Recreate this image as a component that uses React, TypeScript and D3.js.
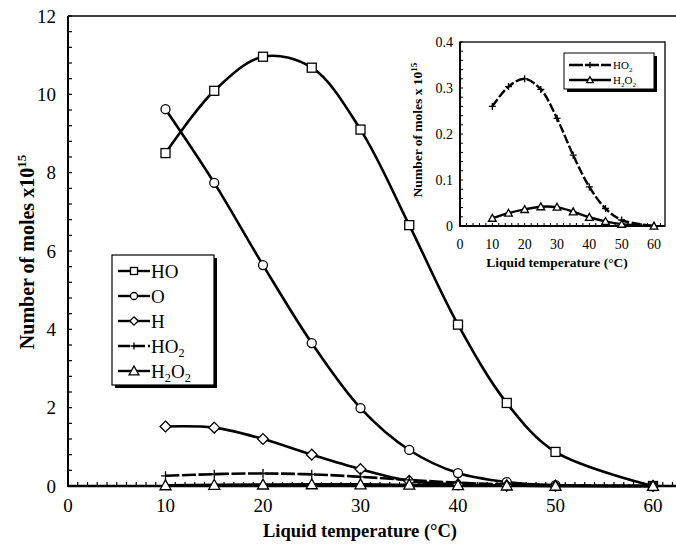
import React from "react";
import * as d3 from "d3";

const temps = [10, 15, 20, 25, 30, 35, 40, 45, 50, 60];
const hoValues = [8.5, 10.09, 10.96, 10.68, 9.1, 6.66, 4.12, 2.12, 0.87, 0.0];
const oValues = [9.62, 7.74, 5.64, 3.65, 1.99, 0.92, 0.33, 0.1, 0.02, 0.0];
const hValues = [1.52, 1.49, 1.2, 0.8, 0.43, 0.13, 0.04, 0.01, 0.0, 0.0];
const ho2Values = [0.26, 0.303, 0.32, 0.297, 0.234, 0.154, 0.085, 0.038, 0.013, 0.0];
const h2o2Values = [0.017, 0.028, 0.036, 0.042, 0.041, 0.031, 0.019, 0.01, 0.004, 0.0];

const mainXTicks = [0, 10, 20, 30, 40, 50, 60];
const mainYTicks = [0, 2, 4, 6, 8, 10, 12];
const insetXTicks = [0, 10, 20, 30, 40, 50, 60];
const insetYTicks = [0, 0.1, 0.2, 0.3, 0.4];

const seriesNames = ["HO", "O", "H", "HO2", "H2O2"];
const seriesMarkers = ["square", "circle", "diamond", "plus", "triangle"];

const FONT = "'Liberation Serif', 'Times New Roman', serif";

function Marker({ type, x, y, s }: { type: string; x: number; y: number; s: number }) {
  const sw = 1.3;
  if (type === "square")
    return <rect x={x - s / 2} y={y - s / 2} width={s} height={s} fill="#fff" stroke="#000" strokeWidth={sw} />;
  if (type === "circle") return <circle cx={x} cy={y} r={s / 2} fill="#fff" stroke="#000" strokeWidth={sw} />;
  if (type === "diamond") {
    const h = s * 0.6;
    return (
      <path d={`M${x},${y - h}L${x + h},${y}L${x},${y + h}L${x - h},${y}Z`} fill="#fff" stroke="#000" strokeWidth={sw} />
    );
  }
  if (type === "triangle") {
    const h = s * 0.55;
    return (
      <path d={`M${x},${y - h}L${x + h},${y + h * 0.8}L${x - h},${y + h * 0.8}Z`} fill="#fff" stroke="#000" strokeWidth={sw} />
    );
  }
  const h = s / 2;
  return <path d={`M${x - h},${y}H${x + h}M${x},${y - h}V${y + h}`} stroke="#000" strokeWidth={1.3} fill="none" />;
}

function Chem({ name, size }: { name: string; size: number }) {
  const sub = size * 0.65;
  const off = size * 0.25;
  if (name === "HO2")
    return (
      <>
        HO<tspan dy={off} fontSize={sub}>2</tspan>
      </>
    );
  if (name === "H2O2")
    return (
      <>
        H<tspan dy={off} fontSize={sub}>2</tspan>
        <tspan dy={-off}>O</tspan>
        <tspan dy={off} fontSize={sub}>2</tspan>
      </>
    );
  return <>{name}</>;
}

export default function App() {
  const x = d3.scaleLinear().domain([0, 60]).range([68, 653]);
  const y = d3.scaleLinear().domain([0, 12]).range([486, 16]);
  const xi = d3.scaleLinear().domain([0, 60]).range([460, 654]);
  const yi = d3.scaleLinear().domain([0, 0.4]).range([226, 42]);

  const mainSeries = [hoValues, oValues, hValues, ho2Values, h2o2Values];
  const lineMain = d3
    .line<number>()
    .x((_, i) => x(temps[i]))
    .y((v) => y(v))
    .curve(d3.curveCatmullRom.alpha(0.5));
  const lineInset = d3
    .line<number>()
    .x((_, i) => xi(temps[i]))
    .y((v) => yi(v))
    .curve(d3.curveCatmullRom.alpha(0.5));

  const xEnd = 700;
  const minorX = d3.range(1, 64, 1);
  const minorY = d3.range(0, 12.01, 0.4);
  const insetMinorX = d3.range(2, 64, 2);
  const insetMinorY = d3.range(0, 0.401, 0.02);
  const insetRight = 665;

  const legRows = [271, 296, 321, 346, 371];
  const insetLegRows = [67, 82];

  return (
    <div style={{ position: "fixed", left: 0, top: 0 }}>
      <svg width={676} height={553} style={{ display: "block", background: "#fff" }} fontFamily={FONT}>
        <rect width={676} height={553} fill="#fff" />
        {/* main frame */}
        <line x1={68} x2={xEnd} y1={16} y2={16} stroke="#000" strokeWidth={1.3} />
        <line x1={68} x2={68} y1={16} y2={487} stroke="#000" strokeWidth={2} />
        {minorY.map((v, i) => (
          <line key={"my" + i} x1={68} x2={72} y1={y(v)} y2={y(v)} stroke="#000" strokeWidth={1.2} />
        ))}
        {minorX.map((v, i) => (
          <line key={"mx" + i} x1={x(v)} x2={x(v)} y1={486} y2={482} stroke="#000" strokeWidth={1.2} />
        ))}
        {mainYTicks.map((v) => (
          <text key={"yt" + v} x={56} y={y(v)} dy="0.35em" textAnchor="end" fontSize={19}>
            {v}
          </text>
        ))}
        {mainXTicks.map((v) => (
          <text key={"xt" + v} x={x(v)} y={512} textAnchor="middle" fontSize={19}>
            {v}
          </text>
        ))}
        <text x={360} y={537} textAnchor="middle" fontSize={18.5} fontWeight="bold">
          Liquid temperature (°C)
        </text>
        <text transform="translate(34,252) rotate(-90)" textAnchor="middle" fontSize={20} fontWeight="bold">
          Number of moles x10<tspan dy={-8} fontSize={13}>15</tspan>
        </text>

        {/* main series */}
        {mainSeries.map((vals, si) => (
          <path
            key={"ml" + si}
            d={lineMain(vals) || ""}
            fill="none"
            stroke="#000"
            strokeWidth={2.6}
            strokeDasharray={si === 3 ? "14,2.5" : undefined}
          />
        ))}
        <line x1={68} x2={xEnd} y1={486} y2={486} stroke="#000" strokeWidth={2.4} />
        {mainSeries.map((vals, si) =>
          vals.map((v, i) => (
            <Marker
              key={"mm" + si + "-" + i}
              type={seriesMarkers[si]}
              x={x(temps[i])}
              y={y(v)}
              s={si === 4 ? 10 : 9}
            />
          ))
        )}

        {/* main legend */}
        <rect x={115} y={258} width={102} height={130} fill="#000" />
        <rect x={112} y={255} width={102} height={130} fill="#fff" stroke="#000" strokeWidth={1.2} />
        {seriesNames.map((n, i) => (
          <g key={"lg" + i}>
            <line
              x1={118}
              x2={150}
              y1={legRows[i]}
              y2={legRows[i]}
              stroke="#000"
              strokeWidth={2.4}
              strokeDasharray={i === 3 ? "12,3" : undefined}
            />
            <Marker type={seriesMarkers[i]} x={134} y={legRows[i]} s={i === 4 ? 9 : 7} />
            <text x={151} y={legRows[i]} dy="0.35em" fontSize={19}>
              <Chem name={n} size={19} />
            </text>
          </g>
        ))}

        {/* inset */}
        <rect x={460} y={42} width={insetRight - 460} height={184} fill="#fff" stroke="#000" strokeWidth={1.3} />
        {insetMinorY.map((v, i) => (
          <line key={"iy" + i} x1={460} x2={463} y1={yi(v)} y2={yi(v)} stroke="#000" strokeWidth={1} />
        ))}
        {insetMinorX.map((v, i) => (
          <line key={"ix" + i} x1={xi(v)} x2={xi(v)} y1={226} y2={223} stroke="#000" strokeWidth={1} />
        ))}
        <line x1={460} x2={460} y1={42} y2={227} stroke="#000" strokeWidth={1.8} />
        {insetYTicks.map((v) => (
          <text key={"iyt" + v} x={453} y={yi(v)} dy="0.35em" textAnchor="end" fontSize={14}>
            {v === 0 ? "0" : v.toFixed(1)}
          </text>
        ))}
        {insetXTicks.map((v) => (
          <text key={"ixt" + v} x={xi(v)} y={249} textAnchor="middle" fontSize={14}>
            {v}
          </text>
        ))}
        <text x={557} y={267} textAnchor="middle" fontSize={13.5} fontWeight="bold">
          Liquid temperature (°C)
        </text>
        <text transform="translate(422,130) rotate(-90)" textAnchor="middle" fontSize={13.5} fontWeight="bold">
          Number of moles x 10<tspan dy={-5} fontSize={9}>15</tspan>
        </text>
        {[ho2Values, h2o2Values].map((vals, si) => (
          <path
            key={"il" + si}
            d={lineInset(vals) || ""}
            fill="none"
            stroke="#000"
            strokeWidth={2.4}
            strokeDasharray={si === 0 ? "9,2.5" : undefined}
          />
        ))}
        <line x1={460} x2={insetRight} y1={226} y2={226} stroke="#000" strokeWidth={2} />
        {[ho2Values, h2o2Values].map((vals, si) =>
          vals.map((v, i) => (
            <Marker
              key={"im" + si + "-" + i}
              type={si === 0 ? "plus" : "triangle"}
              x={xi(temps[i])}
              y={yi(v)}
              s={7}
            />
          ))
        )}
        {/* inset legend */}
        <rect x={567} y={56} width={90} height={36} fill="#000" />
        <rect x={564} y={53} width={90} height={36} fill="#fff" stroke="#000" strokeWidth={1} />
        {["HO2", "H2O2"].map((n, i) => (
          <g key={"ilg" + i}>
            <line
              x1={569}
              x2={611}
              y1={insetLegRows[i] - 2}
              y2={insetLegRows[i] - 2}
              stroke="#000"
              strokeWidth={2.4}
              strokeDasharray={i === 0 ? "14,2" : undefined}
            />
            <Marker type={i === 0 ? "plus" : "triangle"} x={590} y={insetLegRows[i] - 2} s={6} />
            <text x={613} y={insetLegRows[i] - 2} dy="0.35em" fontSize={11}>
              <Chem name={n} size={11} />
            </text>
          </g>
        ))}
      </svg>
    </div>
  );
}
